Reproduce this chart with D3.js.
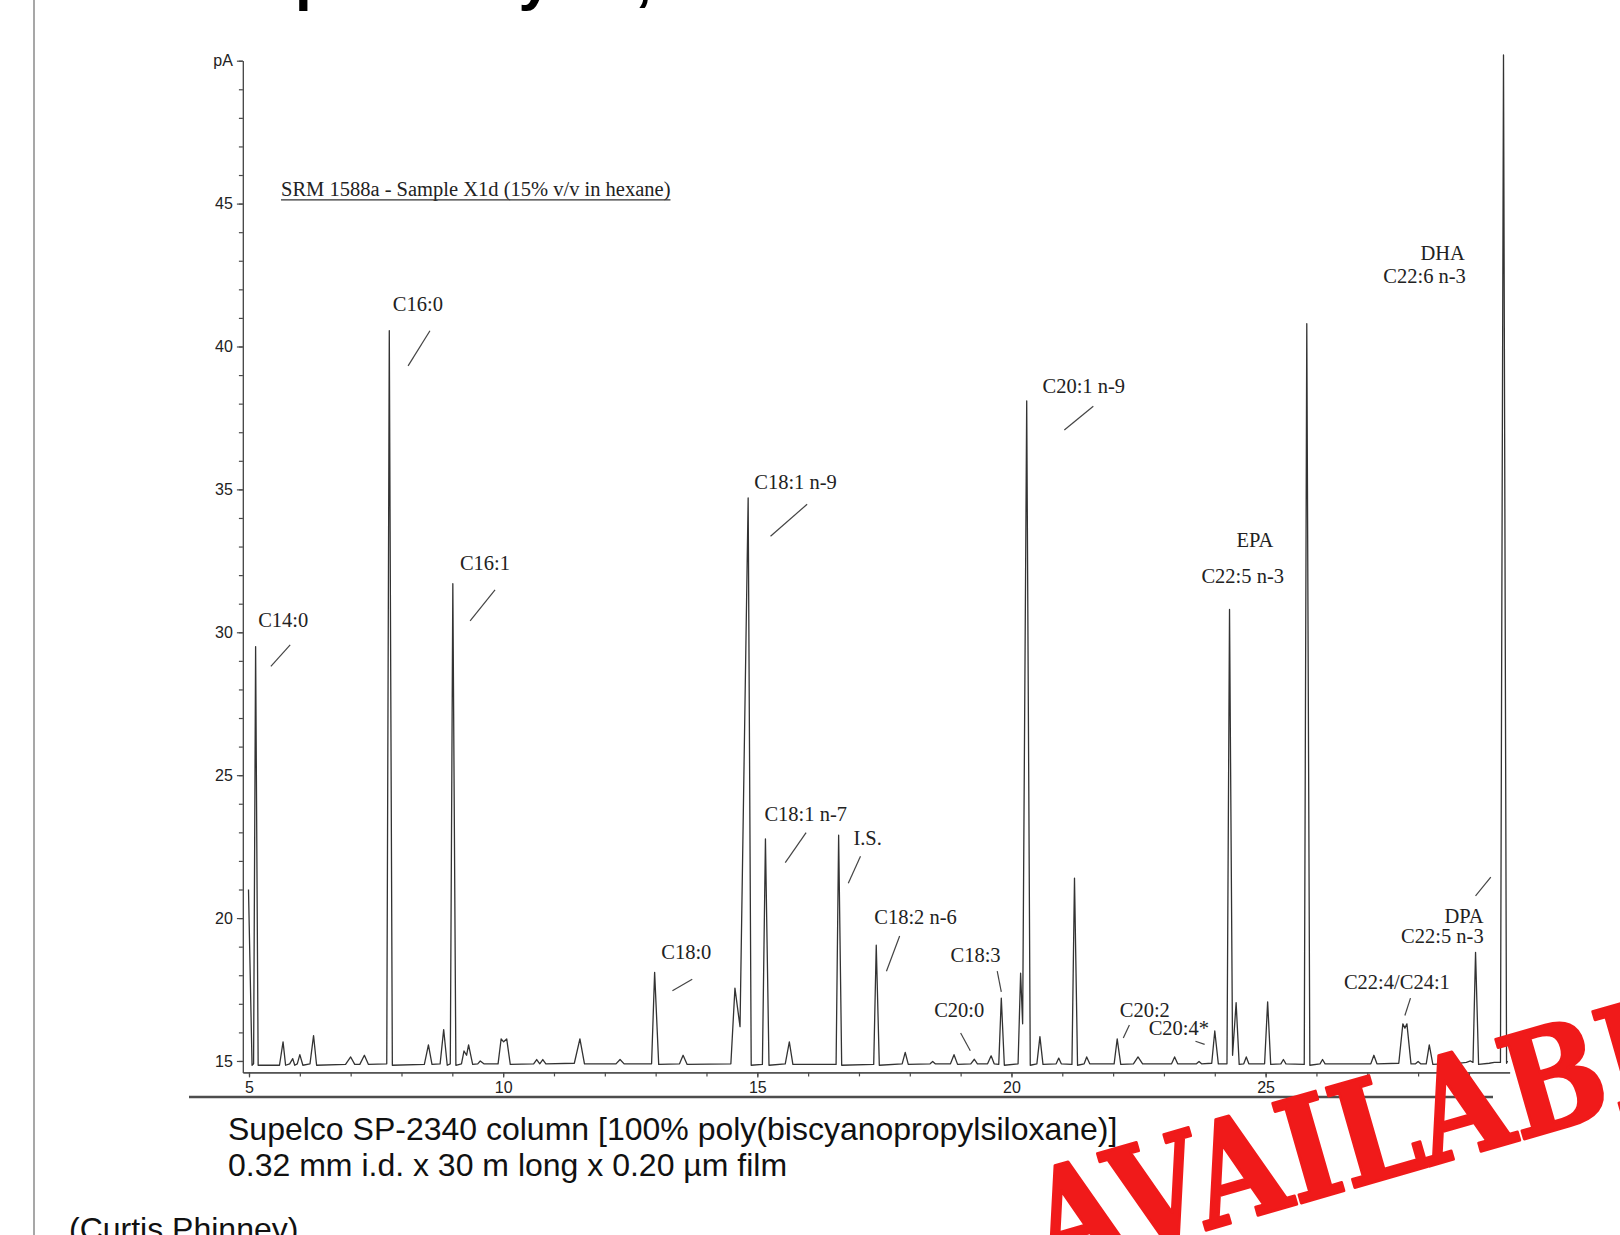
<!DOCTYPE html>
<html>
<head>
<meta charset="utf-8">
<script src="https://cdn.jsdelivr.net/npm/d3@7"></script>
<style>
  html, body { margin: 0; padding: 0; background: #fff; }
  svg { display: block; }
</style>
</head>
<body>
<svg id="chart" width="1620" height="1235"></svg>
<script>
(function() {
  // Detector trace: [retention time (min), signal (pA)]
  const tracePoints = [
    [4.99, 21.0], [5.06, 14.85],
    [5.09, 14.9], [5.13, 29.5], [5.18, 14.85],
    [5.6, 14.85], [5.67, 15.67], [5.72, 14.85],
    [5.8, 14.9], [5.86, 15.08], [5.9, 14.85],
    [5.95, 14.9], [6.0, 15.22], [6.06, 14.85],
    [6.2, 14.9], [6.27, 15.89], [6.33, 14.85],
    [6.9, 14.88], [7.0, 15.14], [7.08, 14.88],
    [7.18, 14.88], [7.27, 15.2], [7.35, 14.88],
    [7.71, 14.9], [7.76, 40.55], [7.82, 14.85],
    [8.45, 14.88], [8.53, 15.56], [8.6, 14.88],
    [8.76, 14.9], [8.83, 16.1], [8.9, 14.85],
    [8.96, 14.9], [9.01, 31.7], [9.07, 14.85],
    [9.18, 14.9], [9.23, 15.35], [9.28, 15.2], [9.32, 15.56], [9.4, 14.88],
    [9.5, 14.9], [9.55, 15.0], [9.62, 14.9],
    [9.9, 14.9], [9.96, 15.77], [10.01, 15.67], [10.07, 15.77], [10.14, 14.88],
    [10.6, 14.9], [10.66, 15.05], [10.72, 14.9], [10.78, 15.05], [10.84, 14.9],
    [11.4, 14.92], [11.51, 15.77], [11.6, 14.9],
    [12.22, 14.9], [12.3, 15.05], [12.38, 14.9],
    [12.92, 14.9], [12.98, 18.1], [13.06, 14.88],
    [13.47, 14.9], [13.54, 15.2], [13.62, 14.88],
    [14.48, 14.9], [14.56, 17.55], [14.66, 16.2], [14.82, 34.7], [14.88, 14.85],
    [15.1, 14.88], [15.16, 22.77], [15.23, 14.85],
    [15.55, 14.9], [15.63, 15.67], [15.7, 14.88],
    [16.55, 14.88], [16.6, 22.9], [16.66, 14.85],
    [17.29, 14.88], [17.34, 19.05], [17.4, 14.85],
    [17.85, 14.9], [17.91, 15.3], [17.97, 14.88],
    [18.4, 14.9], [18.45, 14.98], [18.5, 14.9],
    [18.8, 14.9], [18.87, 15.22], [18.94, 14.88],
    [19.2, 14.9], [19.27, 15.06], [19.33, 14.9],
    [19.53, 14.9], [19.6, 15.18], [19.66, 14.9],
    [19.75, 14.88], [19.8, 17.2], [19.86, 14.85],
    [20.13, 14.9], [20.18, 18.07], [20.22, 16.3], [20.3, 38.1], [20.37, 14.85],
    [20.5, 14.9], [20.56, 15.85], [20.62, 14.88],
    [20.88, 14.9], [20.93, 15.1], [20.98, 14.9],
    [21.19, 14.88], [21.24, 21.4], [21.3, 14.85],
    [21.43, 14.9], [21.48, 15.14], [21.54, 14.9],
    [22.02, 14.9], [22.08, 15.77], [22.15, 14.88],
    [22.4, 14.9], [22.49, 15.14], [22.58, 14.9],
    [23.15, 14.9], [23.21, 15.14], [23.27, 14.9],
    [23.64, 14.9], [23.69, 14.98], [23.74, 14.9],
    [23.94, 14.92], [24.0, 16.05], [24.07, 14.9],
    [24.24, 14.9], [24.29, 30.8], [24.35, 15.2], [24.42, 17.04], [24.48, 14.88],
    [24.57, 14.9], [24.62, 15.14], [24.67, 14.9],
    [24.98, 14.9], [25.04, 17.07], [25.1, 14.88],
    [25.3, 14.9], [25.35, 15.05], [25.4, 14.9],
    [25.76, 14.88], [25.81, 40.8], [25.87, 14.85],
    [26.07, 14.9], [26.12, 15.05], [26.17, 14.9],
    [27.07, 14.9], [27.13, 15.2], [27.19, 14.9],
    [27.62, 14.92], [27.7, 16.3], [27.74, 16.15], [27.78, 16.3], [27.86, 14.9],
    [27.95, 14.9], [28.0, 14.98], [28.05, 14.9],
    [28.16, 14.9], [28.22, 15.56], [28.29, 14.88],
    [28.5, 14.9], [28.6, 14.95], [28.7, 14.9],
    [28.95, 14.95], [29.03, 15.0],
    [29.08, 14.95], [29.13, 18.8], [29.19, 14.88],
    [29.4, 14.92], [29.5, 14.95],
    [29.62, 14.95], [29.68, 50.2], [29.74, 14.92], [29.76, 15.0]
  ];

  const yMajorTicks = [15, 20, 25, 30, 35, 40, 45];
  const yMinorTicks = d3.range(15, 51);
  const yUnitTick = 50;
  const xMajorTicks = [5, 10, 15, 20, 25];
  const xMinorTicks = d3.range(5, 30);

  // Peak annotations: label text, where the label sits [min, pA], its anchor,
  // and an optional leader line [[min, pA], [min, pA]]
  const peakLabels = [
    { text: 'C14:0', at: [5.18, 30.18], anchor: 'start', leader: [[5.81, 29.56], [5.43, 28.81]] },
    { text: 'C16:0', at: [7.83, 41.24], anchor: 'start', leader: [[8.56, 40.55], [8.13, 39.32]] },
    { text: 'C16:1', at: [9.15, 32.17], anchor: 'start', leader: [[9.84, 31.48], [9.35, 30.4]] },
    { text: 'C18:1 n-9', at: [14.94, 35.02], anchor: 'start', leader: [[15.98, 34.48], [15.26, 33.36]] },
    { text: 'C20:1 n-9', at: [20.61, 38.38], anchor: 'start', leader: [[21.61, 37.91], [21.04, 37.08]] },
    { text: 'EPA', at: [24.79, 33.0], anchor: 'middle' },
    { text: 'C22:5 n-3', at: [24.55, 31.73], anchor: 'middle' },
    { text: 'DHA', at: [28.92, 43.04], anchor: 'end' },
    { text: 'C22:6 n-3', at: [28.94, 42.21], anchor: 'end' },
    { text: 'C18:1 n-7', at: [15.14, 23.38], anchor: 'start', leader: [[15.96, 22.99], [15.55, 21.94]] },
    { text: 'I.S.', at: [16.89, 22.55], anchor: 'start', leader: [[17.03, 22.16], [16.79, 21.22]] },
    { text: 'C18:2 n-6', at: [17.3, 19.81], anchor: 'start', leader: [[17.8, 19.37], [17.54, 18.14]] },
    { text: 'C18:0', at: [13.11, 18.58], anchor: 'start', leader: [[13.72, 17.86], [13.33, 17.46]] },
    { text: 'C18:3', at: [18.8, 18.47], anchor: 'start', leader: [[19.72, 18.14], [19.8, 17.42]] },
    { text: 'C20:0', at: [18.48, 16.55], anchor: 'start', leader: [[19.0, 15.98], [19.19, 15.36]] },
    { text: 'C20:2', at: [22.13, 16.55], anchor: 'start', leader: [[22.32, 16.26], [22.2, 15.8]] },
    { text: 'C20:4*', at: [22.7, 15.9], anchor: 'start', leader: [[23.62, 15.69], [23.8, 15.58]] },
    { text: 'C22:4/C24:1', at: [26.54, 17.53], anchor: 'start', leader: [[27.85, 17.2], [27.74, 16.59]] },
    { text: 'DPA', at: [29.29, 19.84], anchor: 'end' },
    { text: 'C22:5 n-3', at: [29.29, 19.12], anchor: 'end', leader: [[29.43, 21.43], [29.13, 20.78]] }
  ];

  const sampleTitle = 'SRM 1588a - Sample X1d (15% v/v in hexane)';
  const slideTitle = 'Example analysis, fish oil';
  const columnNotes = [
    'Supelco SP-2340 column [100% poly(biscyanopropylsiloxane)]',
    '0.32 mm i.d. x 30 m long x 0.20 \u00b5m film'
  ];
  const credit = '(Curtis Phinney)';
  const stamp = 'AVAILABLE';

  let svg = d3.select('#chart');

  let x = d3.scaleLinear().domain([4.88, 29.8]).range([242.9, 1509.6]);
  let y = d3.scaleLinear().domain([14.6, 50]).range([1072.4, 60.7]);

  const serif = '"Liberation Serif", "Times New Roman", serif';
  const sans = '"Liberation Sans", Arial, sans-serif';

  //
  // Slide furniture
  //

  svg.append('line')
    .attr('x1', 34).attr('x2', 34)
    .attr('y1', 0).attr('y2', 1235)
    .attr('stroke', '#8a8a8a')
    .attr('stroke-width', 1.5);

  // Slide heading, pushed off the top: only its descenders show
  svg.append('text')
    .attr('x', 135)
    .attr('y', -1)
    .attr('font-family', sans)
    .attr('font-weight', 'bold')
    .attr('font-size', 60)
    .attr('fill', '#000')
    .text(slideTitle);

  //
  // Axes
  //

  let yAxisMinor = d3.axisLeft(y)
    .tickValues(yMinorTicks)
    .tickSize(4)
    .tickSizeOuter(0)
    .tickFormat('');

  let yAxisMajor = d3.axisLeft(y)
    .tickValues(yMajorTicks.concat([yUnitTick]))
    .tickSize(6)
    .tickSizeOuter(0)
    .tickPadding(4)
    .tickFormat((d) => d === yUnitTick ? 'pA' : d);

  let xAxisMinor = d3.axisBottom(x)
    .tickValues(xMinorTicks)
    .tickSize(4)
    .tickSizeOuter(0)
    .tickFormat('');

  let xAxisMajor = d3.axisBottom(x)
    .tickValues(xMajorTicks)
    .tickSize(5)
    .tickSizeOuter(0)
    .tickPadding(4);

  let axisGroup = svg.append('g').attr('class', 'axes');

  [
    [yAxisMinor, `translate(${x(4.88)},0)`],
    [yAxisMajor, `translate(${x(4.88)},0)`],
    [xAxisMinor, `translate(0,${y(14.6)})`],
    [xAxisMajor, `translate(0,${y(14.6)})`]
  ].forEach(([axis, transform]) => {
    let g = axisGroup.append('g')
      .attr('transform', transform)
      .call(axis);
    g.selectAll('path, line')
      .attr('stroke', '#4a4a4a')
      .attr('stroke-width', 1.2);
    g.selectAll('text')
      .attr('font-family', sans)
      .attr('font-size', 16)
      .attr('fill', '#222');
  });

  // Lower edge of the scanned page
  svg.append('line')
    .attr('x1', 189).attr('x2', 1493)
    .attr('y1', 1097).attr('y2', 1097)
    .attr('stroke', '#4d4d4d')
    .attr('stroke-width', 2.5);

  //
  // Trace
  //

  let traceLine = d3.line()
    .x((d) => x(d[0]))
    .y((d) => y(d[1]));

  svg.append('path')
    .datum(tracePoints)
    .attr('class', 'trace')
    .attr('d', traceLine)
    .attr('fill', 'none')
    .attr('stroke', '#333')
    .attr('stroke-width', 1.3)
    .attr('stroke-linejoin', 'round');

  //
  // Sample title (underlined)
  //

  let titleText = svg.append('text')
    .attr('x', x(5.63))
    .attr('y', y(45.25))
    .attr('font-family', serif)
    .attr('font-size', 20.5)
    .attr('fill', '#222')
    .text(sampleTitle);

  let titleWidth = titleText.node().getComputedTextLength();
  svg.append('line')
    .attr('x1', x(5.63)).attr('x2', x(5.63) + titleWidth)
    .attr('y1', y(45.25) + 3.5).attr('y2', y(45.25) + 3.5)
    .attr('stroke', '#333')
    .attr('stroke-width', 1.2);

  //
  // Peak labels
  //

  let labelGroup = svg.append('g').attr('class', 'peak-labels');

  labelGroup.selectAll('.peak-label')
    .data(peakLabels)
    .enter()
    .append('text')
      .attr('class', 'peak-label')
      .attr('x', (d) => x(d.at[0]))
      .attr('y', (d) => y(d.at[1]))
      .attr('text-anchor', (d) => d.anchor)
      .attr('font-family', serif)
      .attr('font-size', 20.5)
      .attr('fill', '#222')
      .text((d) => d.text);

  labelGroup.selectAll('.leader')
    .data(peakLabels.filter((d) => d.leader))
    .enter()
    .append('line')
      .attr('class', 'leader')
      .attr('x1', (d) => x(d.leader[0][0]))
      .attr('y1', (d) => y(d.leader[0][1]))
      .attr('x2', (d) => x(d.leader[1][0]))
      .attr('y2', (d) => y(d.leader[1][1]))
      .attr('stroke', '#444')
      .attr('stroke-width', 1.2);

  //
  // Column description and credit
  //

  svg.selectAll('.column-note')
    .data(columnNotes)
    .enter()
    .append('text')
      .attr('class', 'column-note')
      .attr('x', 228)
      .attr('y', (d, i) => 1140 + i * 36)
      .attr('font-family', sans)
      .attr('font-size', 32)
      .attr('fill', '#111')
      .text((d) => d);

  svg.append('text')
    .attr('x', 69)
    .attr('y', 1240)
    .attr('font-family', sans)
    .attr('font-size', 32)
    .attr('fill', '#111')
    .text(credit);

  //
  // Red stamp across the corner
  //

  svg.append('text')
    .attr('transform', 'translate(1046,1276) rotate(-16) scale(0.84,1)')
    .attr('font-family', '"DejaVu Serif", serif')
    .attr('font-weight', 'bold')
    .attr('font-size', 142)
    .attr('fill', '#f01a1a')
    .attr('stroke', '#f01a1a')
    .attr('stroke-width', 3)
    .attr('stroke-linejoin', 'round')
    .text(stamp);
})();
</script>
</body>
</html>
